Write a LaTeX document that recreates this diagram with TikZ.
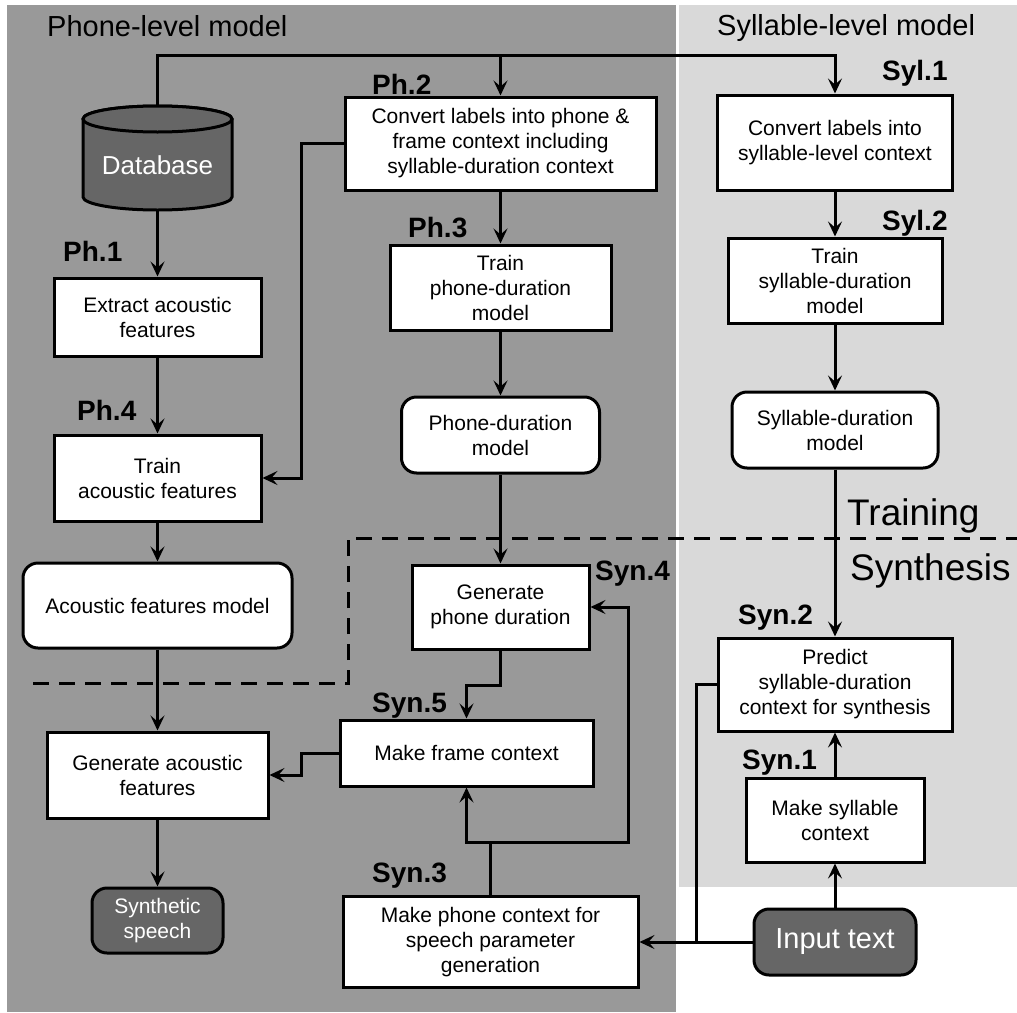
\documentclass[tikz,border=0pt]{standalone}
\usepackage{fontspec}
\setmainfont{Liberation Sans}
\usetikzlibrary{arrows.meta}
\definecolor{darkbg}{HTML}{999999}
\definecolor{lightbg}{HTML}{D9D9D9}
\definecolor{darknode}{HTML}{666666}
\tikzset{
  conn/.style={line width=3pt, line join=miter},
  arr/.style={conn, -{Stealth[length=15pt,width=14pt,inset=6pt]}},
  dashline/.style={line width=3pt, dash pattern=on 16pt off 10pt},
  boxtext/.style={font=\fontsize{21}{25}\selectfont, align=center, text=black},
  procbox/.style={boxtext, draw, line width=3pt, fill=white, inner sep=0pt},
  modelbox/.style={procbox, rounded corners=15pt},
  darkbox/.style={draw, line width=3pt, fill=darknode, rounded corners=15pt, text=white, align=center, inner sep=0pt},
  steplabel/.style={font=\fontsize{28}{30}\selectfont\bfseries, anchor=base west, inner sep=0pt},
  heading/.style={font=\fontsize{29}{31}\selectfont, anchor=base west, inner sep=0pt},
  phase/.style={font=\fontsize{37}{40}\selectfont, anchor=base west, inner sep=0pt},
}
\begin{document}
\begin{tikzpicture}[x=1pt,y=-1pt]
% background and regions
\fill[white] (0,0) rectangle (1017,1012);
\useasboundingbox (0,0) rectangle (1017,1012);
\fill[darkbg] (7,5) rectangle (676,1012);
\fill[lightbg] (679,5) rectangle (1017,887);

% headings
\node[heading] (hphone) at (47,36) {Phone-level model};
\node[heading] (hsyl) at (717,35) {Syllable-level model};
\node[phase] (htrain) at (847,525) {Training};
\node[phase] (hsynth) at (850,580) {Synthesis};

% dashed separator
\draw[dashline] (33,683) -- (348,683) -- (348,538) -- (1017,538);

% database cylinder
\node[minimum width=149pt, minimum height=104pt, inner sep=0pt] (db) at (157.5,158) {};
\draw[line width=3pt, fill=darknode] (83,119) -- (83,197)
  arc[start angle=180, end angle=360, x radius=74.5pt, y radius=13pt]
  -- (232,119)
  arc[start angle=0, end angle=180, x radius=74.5pt, y radius=13pt] -- cycle;
\draw[line width=3pt, fill=darknode] (157.5,119) ellipse[x radius=74.5pt, y radius=13pt];
\node[font=\fontsize{26}{28}\selectfont, text=white] (dbtext) at (157.5,165) {Database};

% phone-level nodes
\node[procbox, minimum width=311pt, minimum height=93pt] (ph2) at (500.5,143.5)
  {Convert labels into phone \&\\frame context including\\syllable-duration context};
\node[procbox, minimum width=207pt, minimum height=78pt] (ph1) at (157.5,317)
  {Extract acoustic\\features};
\node[procbox, minimum width=207pt, minimum height=86pt] (ph4) at (157.5,478)
  {Train\\acoustic features};
\node[procbox, minimum width=221pt, minimum height=85pt] (ph3) at (500.5,287.5)
  {Train\\phone-duration\\model};
\node[modelbox, minimum width=198pt, minimum height=76pt] (phmod) at (500.5,435)
  {Phone-duration\\model};
\node[modelbox, minimum width=269pt, minimum height=85pt] (acmod) at (157.5,605.5)
  {Acoustic features model};
\node[procbox, minimum width=177pt, minimum height=84pt] (syn4) at (500.5,607)
  {Generate\\phone duration};
\node[procbox, minimum width=253pt, minimum height=66pt] (syn5) at (466.5,753)
  {Make frame context};
\node[procbox, minimum width=221pt, minimum height=86pt] (genac) at (157.5,775)
  {Generate acoustic\\features};
\node[darkbox, minimum width=131pt, minimum height=65pt, font=\fontsize{21}{25}\selectfont] (synsp) at (157.5,920.5)
  {Synthetic\\speech};
\node[procbox, minimum width=295pt, minimum height=91pt] (syn3) at (490.5,942)
  {Make phone context for\\speech parameter\\generation};

% syllable-level nodes
\node[procbox, minimum width=235pt, minimum height=95pt] (syl1) at (835,142.5)
  {Convert labels into\\syllable-level context};
\node[procbox, minimum width=214pt, minimum height=85pt] (syl2) at (835,280.5)
  {Train\\syllable-duration\\model};
\node[modelbox, minimum width=206pt, minimum height=76pt] (sylmod) at (835,430)
  {Syllable-duration\\model};
\node[procbox, minimum width=234pt, minimum height=93pt] (syn2) at (835,684.5)
  {Predict\\syllable-duration\\context for synthesis};
\node[procbox, minimum width=178pt, minimum height=84pt] (syn1) at (835,820)
  {Make syllable\\context};
\node[darkbox, minimum width=162pt, minimum height=66pt, font=\fontsize{29}{31}\selectfont] (input) at (835,942)
  {Input text};

% step labels
\node[steplabel] (lph1) at (63,261) {Ph.1};
\node[steplabel] (lph2) at (372,94) {Ph.2};
\node[steplabel] (lph3) at (408,237) {Ph.3};
\node[steplabel] (lph4) at (77,420) {Ph.4};
\node[steplabel] (lsyl1) at (882,80) {Syl.1};
\node[steplabel] (lsyl2) at (882,230) {Syl.2};
\node[steplabel] (lsyn1) at (742,769) {Syn.1};
\node[steplabel] (lsyn2) at (738,624) {Syn.2};
\node[steplabel] (lsyn3) at (372,882) {Syn.3};
\node[steplabel] (lsyn4) at (595,580) {Syn.4};
\node[steplabel] (lsyn5) at (372,712) {Syn.5};

% connectors
\coordinate (ty) at (0,55);
\draw[arr] (db.north) |- (syl1.north |- ty) -- (syl1.north);
\draw[arr] (ph2.north |- ty) -- (ph2.north);
\draw[arr] (db.south) -- (ph1.north);
\draw[arr] (ph1) -- (ph4);
\draw[arr] (ph2.west) -- ++(-42,0) |- (ph4.east);
\draw[arr] (ph2) -- (ph3);
\draw[arr] (ph3) -- (phmod);
\draw[arr] (phmod) -- (syn4);
\draw[arr] (ph4) -- (acmod);
\draw[arr] (acmod) -- (genac);
\draw[arr] (genac) -- (synsp);
\draw[arr] (syl1) -- (syl2);
\draw[arr] (syl2) -- (sylmod);
\draw[arr] (sylmod) -- (syn2);
\draw[arr] (syn4.south) -- ++(0,35) -| (syn5.north);
\draw[arr] (syn5.west) -- ++(-37,0) |- (genac.east);
\coordinate (j3) at (490.5,842);
\draw[arr] (syn3.north) -- (j3) -| (syn5.south);
\draw[arr] (j3) -- ++(137.5,0) |- (syn4.east);
\draw[arr] (input) -- (syn1);
\draw[arr] (syn1) -- (syn2);
\draw[arr] (input.west) -- (syn3.east);
\coordinate (j2) at (696,942);
\draw[conn] (syn2.west) -| (j2);
\end{tikzpicture}
\end{document}
